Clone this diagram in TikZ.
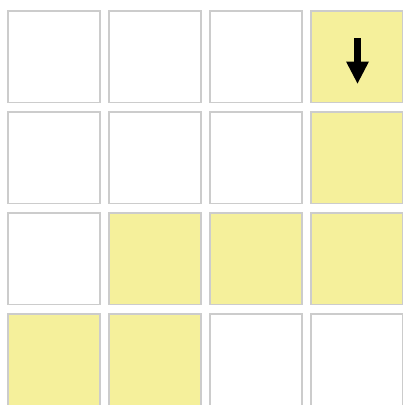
\documentclass[tikz,border=0pt]{standalone}
\definecolor{cellyellow}{HTML}{F5F09B}
\definecolor{cellborder}{HTML}{CCCCCC}
\begin{document}
\begin{tikzpicture}[x=1pt,y=-1pt,
  cell/.style={draw=cellborder,line width=1.6pt,fill=white,minimum width=91.6pt,minimum height=91.6pt,inner sep=0pt,outer sep=0pt},
  hot/.style={cell,fill=cellyellow}]
\useasboundingbox (0,0) rectangle (403,405);
\foreach \r/\c/\s in {0/0/cell,0/1/cell,0/2/cell,0/3/hot,
                      1/0/cell,1/1/cell,1/2/cell,1/3/hot,
                      2/0/cell,2/1/hot,2/2/hot,2/3/hot,
                      3/0/hot,3/1/hot,3/2/cell,3/3/cell}{
  \node[\s] (c\r\c) at ({54+101*\c},{56.5+101*\r}) {};
}
\fill[black] (354.3,38) rectangle (360.7,62);
\fill[black] (346,61.5) -- (369,61.5) -- (357.5,83.5) -- cycle;
\end{tikzpicture}
\end{document}
